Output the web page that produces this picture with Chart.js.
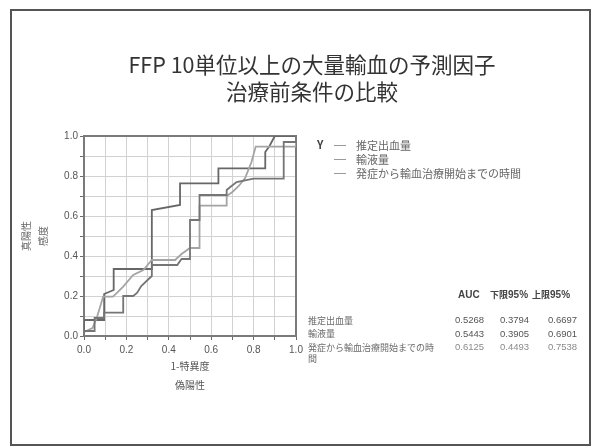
<!DOCTYPE html>
<html>
<head>
<meta charset="utf-8">
<script src="https://cdn.jsdelivr.net/npm/chart.js@4.4.1/dist/chart.umd.min.js"></script>
<style>
  html, body { margin: 0; padding: 0; background: #fff; }
  #wrap { position: relative; width: 593px; height: 448px; overflow: hidden;
          font-family: "Noto Sans CJK JP", "Noto Sans", sans-serif; }
  #frame { position: absolute; left: 10px; top: 9px; width: 581px; height: 437px;
           box-sizing: border-box; border: 2px solid #555; }
  #roc { position: absolute; left: 0; top: 0; }
  .title { position: absolute; left: 0; width: 624px; text-align: center;
           font-size: 21.5px; line-height: 27px; color: #333; white-space: nowrap; }
  .lg { position: absolute; font-size: 11px; line-height: 14px; color: #666; white-space: nowrap; }
  .lgline { position: absolute; height: 0; width: 12px; border-top: 1px solid #999; }
  .th { position: absolute; font-family: "Liberation Sans", sans-serif; font-weight: bold;
        font-size: 10px; line-height: 12px; color: #444; white-space: nowrap; }
  .th span { font-family: "Noto Sans CJK JP", sans-serif; font-size: 9px; }
  .rl { position: absolute; left: 308px; width: 128px; font-size: 9px; line-height: 11px;
        color: #6a6a6a; word-break: break-all; }
  .td { position: absolute; font-family: "Liberation Sans", sans-serif; font-size: 9.5px;
        line-height: 12px; white-space: nowrap; }
</style>
</head>
<body>
<div id="wrap">
  <div id="frame"></div>
  <canvas id="roc" width="593" height="448"></canvas>
</div>
<script>
// ROC curves: false-positive rate (x) and true-positive rate (y) for each predictor
const seriesNames = ['推定出血量', '輸液量', '発症から輸血治療開始までの時間'];

const fprBleed = [0, 0, 0.05, 0.05, 0.095, 0.095, 0.185, 0.185, 0.232, 0.25, 0.27, 0.30, 0.32, 0.32, 0.44, 0.46, 0.50, 0.50, 0.545, 0.545, 0.673, 0.673, 0.69, 0.72, 0.80, 0.942, 0.942, 1, 1];
const tprBleed = [0, 0.025, 0.025, 0.09, 0.09, 0.117, 0.117, 0.20, 0.20, 0.215, 0.25, 0.28, 0.30, 0.355, 0.355, 0.385, 0.385, 0.58, 0.58, 0.705, 0.705, 0.73, 0.745, 0.77, 0.787, 0.787, 0.97, 0.97, 1];

const fprFluid = [0, 0, 0.04, 0.06, 0.08, 0.09, 0.137, 0.185, 0.232, 0.28, 0.32, 0.43, 0.46, 0.50, 0.545, 0.545, 0.673, 0.673, 0.70, 0.73, 0.76, 0.79, 0.81, 0.942, 1, 1];
const tprFluid = [0, 0.02, 0.04, 0.09, 0.16, 0.197, 0.197, 0.247, 0.305, 0.33, 0.38, 0.38, 0.41, 0.44, 0.44, 0.652, 0.652, 0.70, 0.72, 0.75, 0.79, 0.87, 0.947, 0.947, 0.947, 1];

const fprOnset = [0, 0, 0.095, 0.095, 0.14, 0.14, 0.32, 0.32, 0.453, 0.453, 0.634, 0.634, 0.855, 0.855, 0.875, 0.90, 1];
const tprOnset = [0, 0.08, 0.08, 0.21, 0.23, 0.335, 0.335, 0.63, 0.655, 0.763, 0.763, 0.838, 0.838, 0.92, 0.95, 1, 1];

// Area under curve with 95% confidence limits
const aucValues = [0.5268, 0.5443, 0.6125];
const lowerCI = [0.3794, 0.3905, 0.4493];
const upperCI = [0.6697, 0.6901, 0.7538];
const tableHeaders = ['AUC', '下限95%', '上限95%'];

const axisTickLabels = ['0.0', '0.2', '0.4', '0.6', '0.8', '1.0'];
const xTitle = ['1-特異度', '偽陽性'];
const yTitle = ['真陽性', '感度'];
const chartTitle = ['FFP 10単位以上の大量輸血の予測因子', '治療前条件の比較'];

const lineColors = ['#757575', '#a4a4a4', '#676767'];
const rowColors = ['#555', '#555', '#8a8a8a'];

const wrap = document.getElementById('wrap');
function addDiv(cls, html, left, top, color) {
  const d = document.createElement('div');
  d.className = cls;
  d.innerHTML = html;
  if (left !== null) d.style.left = left + 'px';
  d.style.top = top + 'px';
  if (color) d.style.color = color;
  wrap.appendChild(d);
  return d;
}

// Title
chartTitle.forEach((t, i) => addDiv('title', t, null, 50 + i * 27));

// Legend
addDiv('lg', 'Y', 317, 137, '#444').style.fontWeight = 'bold';
seriesNames.forEach((name, i) => {
  const y = 144.5 + i * 14;
  const ln = addDiv('lgline', '', 334, Math.round(y));
  ln.style.borderTopColor = '#9a9a9a';
  addDiv('lg', name, 356, y - 7);
});

// Statistics table
const headLeft = [458, 490, 532];
tableHeaders.forEach((h, i) => {
  const html = h.replace(/([^\x00-\x7F]+)/g, '<span>$1</span>');
  addDiv('th', html, headLeft[i], 289, '#444');
});
const colLeft = [455, 500, 548];
const rowTop = [314, 327.5, 341];
seriesNames.forEach((name, i) => {
  addDiv('rl', name, null, rowTop[i] + 0.5);
  [aucValues, lowerCI, upperCI].forEach((col, j) => {
    addDiv('td', col[i].toFixed(4), colLeft[j], rowTop[i], rowColors[i]);
  });
});

function toPoints(xs, ys) { return xs.map((x, i) => ({ x: x, y: ys[i] })); }

// Frame around the plotting area
const plotFrame = {
  id: 'plotFrame',
  beforeDatasetsDraw(chart) {
    const a = chart.chartArea, ctx = chart.ctx;
    ctx.save();
    ctx.strokeStyle = '#7a7a7a';
    ctx.lineWidth = 2;
    ctx.strokeRect(a.left, a.top, a.right - a.left, a.bottom - a.top);
    ctx.restore();
  }
};

function tickLabel(v) {
  const i = Math.round(v * 10);
  return i % 2 === 0 ? axisTickLabels[i / 2] : '';
}

const tickFont = { family: 'Liberation Sans', size: 10 };
const gridOpts = { color: '#d2d2d2', lineWidth: 1, tickColor: '#6a6a6a', tickLength: 4, drawTicks: true };

new Chart(document.getElementById('roc'), {
  type: 'scatter',
  data: {
    datasets: [
      { label: seriesNames[0], data: toPoints(fprBleed, tprBleed), borderColor: lineColors[0] },
      { label: seriesNames[1], data: toPoints(fprFluid, tprFluid), borderColor: lineColors[1] },
      { label: seriesNames[2], data: toPoints(fprOnset, tprOnset), borderColor: lineColors[2] }
    ].map(d => Object.assign(d, { showLine: true, pointRadius: 0, borderWidth: 1.8, tension: 0, fill: false }))
  },
  options: {
    responsive: false,
    animation: false,
    devicePixelRatio: 1,
    layout: { padding: { left: 10, top: 136, right: 297, bottom: 50 } },
    plugins: { legend: { display: false }, tooltip: { enabled: false } },
    scales: {
      x: {
        type: 'linear', min: 0, max: 1,
        ticks: { stepSize: 0.1, autoSkip: false, maxRotation: 0, padding: 4, color: '#555', font: tickFont, callback: tickLabel },
        grid: gridOpts,
        border: { display: false },
        title: { display: true, text: xTitle, color: '#555',
                 font: { family: 'Noto Sans CJK JP', size: 10, lineHeight: 1.9 }, padding: { top: 0, bottom: 3.5 } },
        afterFit(s) { s.height = 62; }
      },
      y: {
        type: 'linear', min: 0, max: 1,
        ticks: { stepSize: 0.1, autoSkip: false, padding: 2, color: '#555', font: tickFont, callback: tickLabel },
        grid: gridOpts,
        border: { display: false },
        title: { display: true, text: yTitle, color: '#666',
                 font: { family: 'Noto Sans CJK JP', size: 10, lineHeight: 1.7 }, padding: { top: 8, bottom: 0 } },
        afterFit(s) { s.width = 74; }
      }
    }
  },
  plugins: [plotFrame]
});
</script>
</body>
</html>
